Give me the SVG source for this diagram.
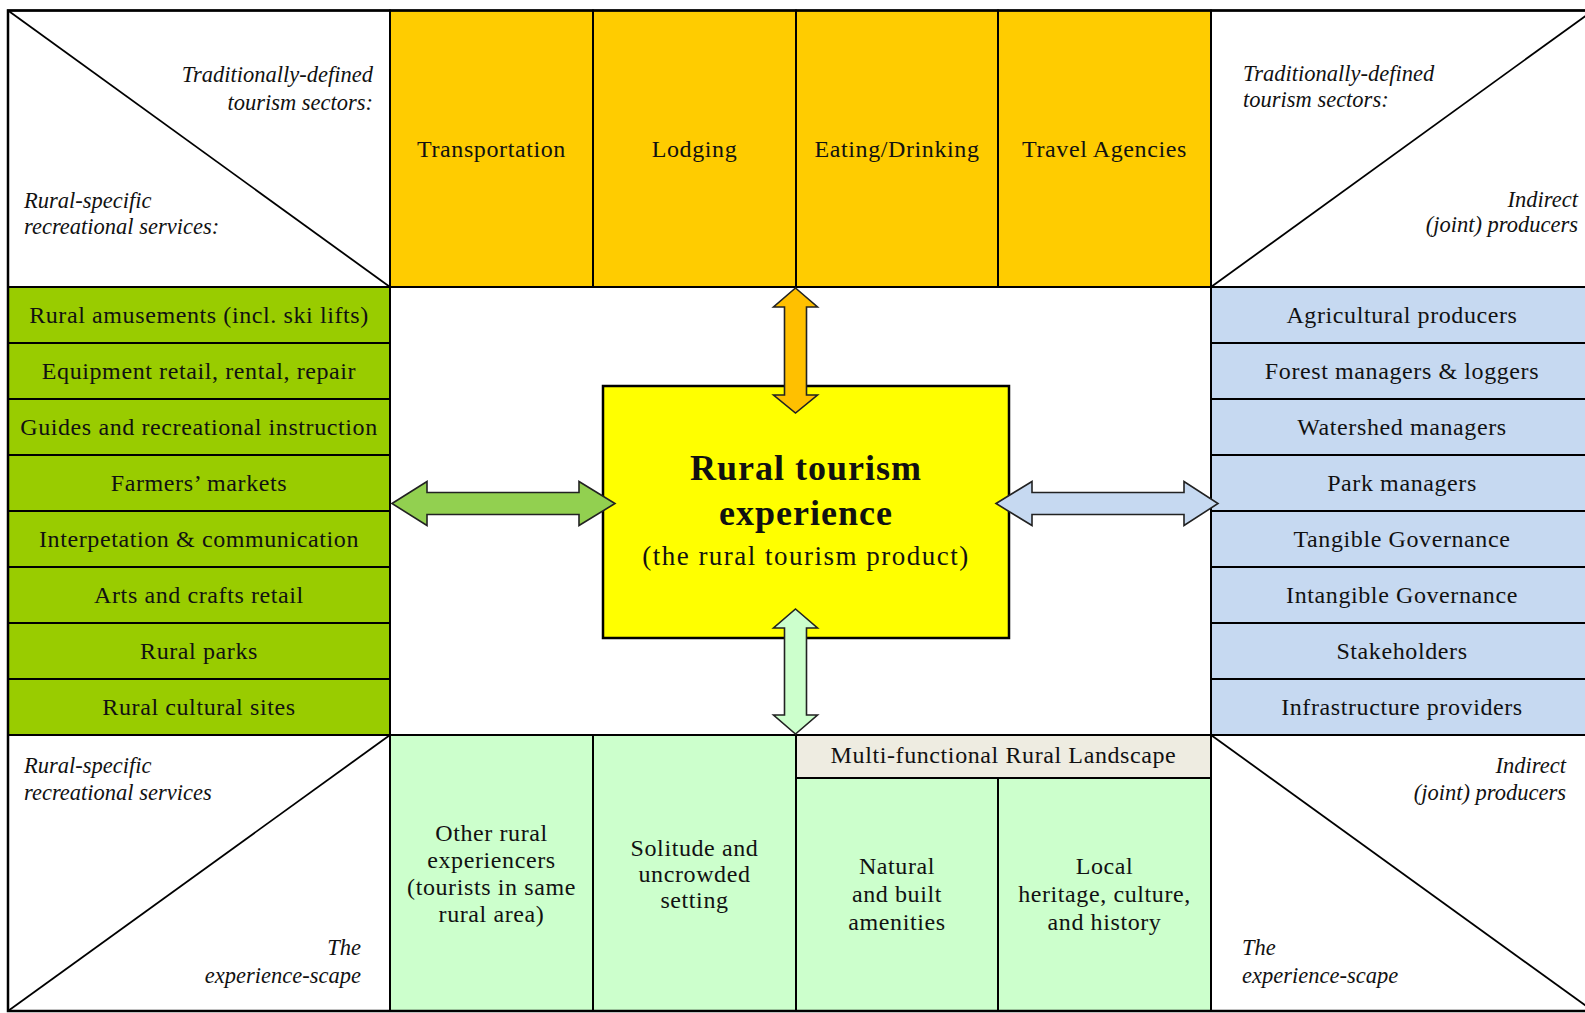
<svg xmlns="http://www.w3.org/2000/svg" width="1585" height="1013" viewBox="0 0 1585 1013">
<style>
text{font-family:"Liberation Serif","Times New Roman",serif;fill:#111}
.t{font-size:24px;letter-spacing:0.6px;text-anchor:middle}
.i{font-size:22.5px;font-style:italic}
.r{text-anchor:end}
.cell{stroke:#000;stroke-width:2}
.org{fill:#ffcc00}
.grn{fill:#99cc00}
.blu{fill:#c6d9f1}
.lg{fill:#ccffcc}
.wh{fill:#fff}
.diag{stroke:#000;stroke-width:1.8;fill:none}
.arr{stroke:#222;stroke-width:1.6;stroke-linejoin:miter}
</style>
<rect x="0" y="0" width="1585" height="1013" fill="#fff"/>

<g id="corner-tl">
<rect class="cell wh" x="8" y="10.5" width="382" height="276.5"/>
<line class="diag" x1="8" y1="10.5" x2="390" y2="287"/>
<text class="i r" x="373" y="82">Traditionally-defined</text>
<text class="i r" x="373" y="110">tourism sectors:</text>
<text class="i" x="24" y="208">Rural-specific</text>
<text class="i" x="24" y="234">recreational services:</text>
</g>
<g id="corner-tr">
<rect class="cell wh" x="1211" y="10.5" width="382" height="276.5"/>
<line class="diag" x1="1211" y1="287" x2="1593" y2="10.5"/>
<text class="i" x="1243" y="81">Traditionally-defined</text>
<text class="i" x="1243" y="107">tourism sectors:</text>
<text class="i r" x="1578" y="207">Indirect</text>
<text class="i r" x="1578" y="232">(joint) producers</text>
</g>
<g id="corner-bl">
<rect class="cell wh" x="8" y="735" width="382" height="276"/>
<line class="diag" x1="8" y1="1011" x2="390" y2="735"/>
<text class="i" x="24" y="773">Rural-specific</text>
<text class="i" x="24" y="800">recreational services</text>
<text class="i r" x="361" y="955">The</text>
<text class="i r" x="361" y="983">experience-scape</text>
</g>
<g id="corner-br">
<rect class="cell wh" x="1211" y="735" width="382" height="276"/>
<line class="diag" x1="1211" y1="735" x2="1593" y2="1011"/>
<text class="i r" x="1566" y="773">Indirect</text>
<text class="i r" x="1566" y="800">(joint) producers</text>
<text class="i" x="1242" y="955">The</text>
<text class="i" x="1242" y="983">experience-scape</text>
</g>

<g id="top-transportation"><rect class="cell org" x="390" y="10.5" width="203" height="276.5"/><text class="t" x="491.5" y="157">Transportation</text></g>
<g id="top-lodging"><rect class="cell org" x="593" y="10.5" width="203" height="276.5"/><text class="t" x="694.5" y="157">Lodging</text></g>
<g id="top-eating"><rect class="cell org" x="796" y="10.5" width="202" height="276.5"/><text class="t" x="897" y="157">Eating/Drinking</text></g>
<g id="top-travel"><rect class="cell org" x="998" y="10.5" width="213" height="276.5"/><text class="t" x="1104.5" y="157">Travel Agencies</text></g>

<g id="left-1"><rect class="cell grn" x="8" y="287" width="382" height="56"/><text class="t" x="199" y="323">Rural amusements (incl. ski lifts)</text></g>
<g id="left-2"><rect class="cell grn" x="8" y="343" width="382" height="56"/><text class="t" x="199" y="379">Equipment retail, rental, repair</text></g>
<g id="left-3"><rect class="cell grn" x="8" y="399" width="382" height="56"/><text class="t" x="199" y="435">Guides and recreational instruction</text></g>
<g id="left-4"><rect class="cell grn" x="8" y="455" width="382" height="56"/><text class="t" x="199" y="491">Farmers’ markets</text></g>
<g id="left-5"><rect class="cell grn" x="8" y="511" width="382" height="56"/><text class="t" x="199" y="547">Interpetation &amp; communication</text></g>
<g id="left-6"><rect class="cell grn" x="8" y="567" width="382" height="56"/><text class="t" x="199" y="603">Arts and crafts retail</text></g>
<g id="left-7"><rect class="cell grn" x="8" y="623" width="382" height="56"/><text class="t" x="199" y="659">Rural parks</text></g>
<g id="left-8"><rect class="cell grn" x="8" y="679" width="382" height="56"/><text class="t" x="199" y="715">Rural cultural sites</text></g>

<g id="right-1"><rect class="cell blu" x="1211" y="287" width="382" height="56"/><text class="t" x="1402" y="323">Agricultural producers</text></g>
<g id="right-2"><rect class="cell blu" x="1211" y="343" width="382" height="56"/><text class="t" x="1402" y="379">Forest managers &amp; loggers</text></g>
<g id="right-3"><rect class="cell blu" x="1211" y="399" width="382" height="56"/><text class="t" x="1402" y="435">Watershed managers</text></g>
<g id="right-4"><rect class="cell blu" x="1211" y="455" width="382" height="56"/><text class="t" x="1402" y="491">Park managers</text></g>
<g id="right-5"><rect class="cell blu" x="1211" y="511" width="382" height="56"/><text class="t" x="1402" y="547">Tangible Governance</text></g>
<g id="right-6"><rect class="cell blu" x="1211" y="567" width="382" height="56"/><text class="t" x="1402" y="603">Intangible Governance</text></g>
<g id="right-7"><rect class="cell blu" x="1211" y="623" width="382" height="56"/><text class="t" x="1402" y="659">Stakeholders</text></g>
<g id="right-8"><rect class="cell blu" x="1211" y="679" width="382" height="56"/><text class="t" x="1402" y="715">Infrastructure providers</text></g>

<g id="bottom-other"><rect class="cell lg" x="390" y="735" width="203" height="276"/>
<text class="t" x="491.5" y="841">Other rural</text><text class="t" x="491.5" y="868">experiencers</text><text class="t" x="491.5" y="895">(tourists in same</text><text class="t" x="491.5" y="922">rural area)</text></g>
<g id="bottom-solitude"><rect class="cell lg" x="593" y="735" width="203" height="276"/>
<text class="t" x="694.5" y="856">Solitude and</text><text class="t" x="694.5" y="882">uncrowded</text><text class="t" x="694.5" y="908">setting</text></g>
<g id="bottom-natural"><rect class="cell lg" x="796" y="778" width="202" height="233"/>
<text class="t" x="897" y="874">Natural</text><text class="t" x="897" y="902">and built</text><text class="t" x="897" y="930">amenities</text></g>
<g id="bottom-local"><rect class="cell lg" x="998" y="778" width="213" height="233"/>
<text class="t" x="1104.5" y="874">Local</text><text class="t" x="1104.5" y="902">heritage, culture,</text><text class="t" x="1104.5" y="930">and history</text></g>
<g id="landscape"><rect x="796" y="735" width="415" height="43" fill="#eeece1" stroke="#000" stroke-width="2"/>
<text class="t" x="1003.5" y="763">Multi-functional Rural Landscape</text></g>

<rect x="8" y="10.5" width="1585" height="1000.5" fill="none" stroke="#000" stroke-width="2.5"/>

<g id="center">
<rect x="603" y="386" width="406" height="252" fill="#ffff00" stroke="#000" stroke-width="2.5"/>
<text x="806" y="480" text-anchor="middle" font-size="36" font-weight="bold" letter-spacing="1">Rural tourism</text>
<text x="806" y="525" text-anchor="middle" font-size="36" font-weight="bold" letter-spacing="1">experience</text>
<text x="806" y="565" text-anchor="middle" font-size="27" letter-spacing="1.5">(the rural tourism product)</text>
</g>

<g id="connectors">
<path class="arr" fill="#ffc000" d="M795.5,288 L817.5,307 L806.5,307 L806.5,395 L817.5,395 L795.5,413 L773.5,395 L784.5,395 L784.5,307 L773.5,307 Z"/>
<path class="arr" fill="#ccffcc" d="M795.5,609 L817.5,628 L806.5,628 L806.5,715 L817.5,715 L795.5,734 L773.5,715 L784.5,715 L784.5,628 L773.5,628 Z"/>
<path class="arr" fill="#92d050" d="M392,503.5 L427,481.5 L427,492.5 L579,492.5 L579,481.5 L615,503.5 L579,525.5 L579,514.5 L427,514.5 L427,525.5 Z"/>
<path class="arr" fill="#c6d9f1" d="M996,503.5 L1032,481.5 L1032,492.5 L1184,492.5 L1184,481.5 L1218,503.5 L1184,525.5 L1184,514.5 L1032,514.5 L1032,525.5 Z"/>
</g>
</svg>
